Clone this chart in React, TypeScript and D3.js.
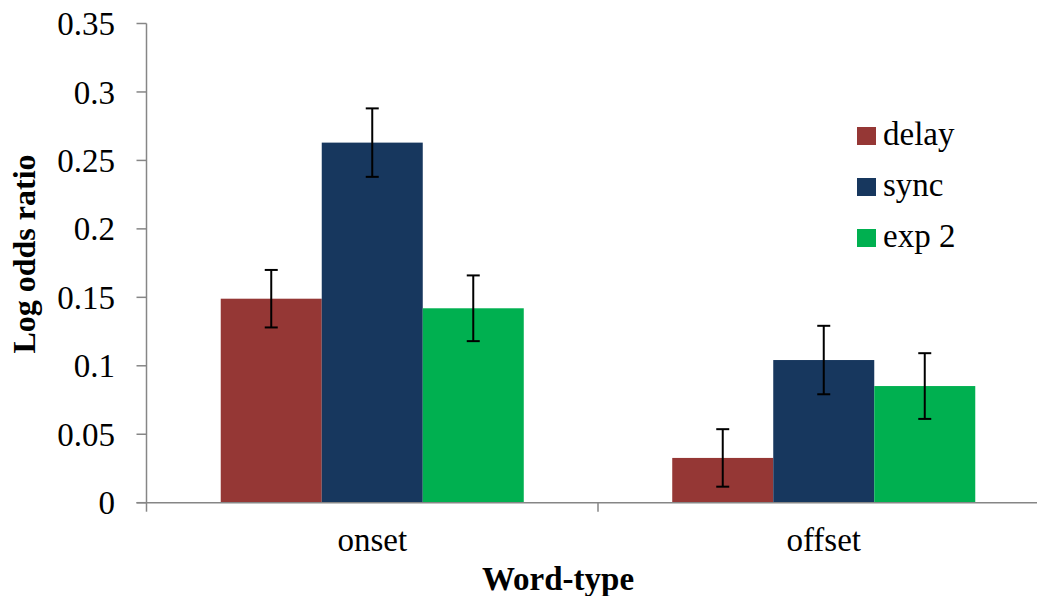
import React from "react";
import * as d3 from "d3";

const categories = ["onset", "offset"];
const seriesNames = ["delay", "sync", "exp 2"];
const delayValues = [0.149, 0.0327];
const syncValues = [0.263, 0.1042];
const exp2Values = [0.142, 0.0852];
const delayErrors = [0.021, 0.021];
const syncErrors = [0.025, 0.025];
const exp2Errors = [0.024, 0.024];
const yTicks = [0, 0.05, 0.1, 0.15, 0.2, 0.25, 0.3, 0.35];
const yTickLabels = ["0", "0.05", "0.1", "0.15", "0.2", "0.25", "0.3", "0.35"];
const colors = ["#953735", "#17375E", "#00B050"];

const W = 1037;
const H = 596;
const tStyle = { fontFamily: '"Liberation Serif", monospace' };

export default function App() {
  const x0 = 146.5;
  const x1 = 1049.5;
  const yBottom = 502.7;
  const yTop = 23.5;
  const xScale = d3.scaleBand<string>().domain(categories).range([x0, x1]).padding(0);
  const bw = xScale.bandwidth();
  const inner = d3
    .scaleBand<string>()
    .domain(seriesNames)
    .range([0, bw])
    .paddingInner(0)
    .paddingOuter(0.735);
  const yScale = d3.scaleLinear().domain([0, 0.35]).range([yBottom, yTop]);

  const values = [delayValues, syncValues, exp2Values];
  const errors = [delayErrors, syncErrors, exp2Errors];
  const axisColor = "#868686";

  return (
    <svg
      width={W}
      height={H}
      style={{ position: "absolute", left: 0, top: 0, background: "#fff" }}
    >
      <rect x={0} y={0} width={W} height={H} fill="#fff" />
      {seriesNames.map((s, si) =>
        categories.map((c, ci) => {
          const bx = (xScale(c) as number) + (inner(s) as number);
          const v = values[si][ci];
          return (
            <rect
              key={s + c}
              x={bx}
              y={yScale(v)}
              width={inner.bandwidth()}
              height={yScale(0) - yScale(v)}
              fill={colors[si]}
            />
          );
        })
      )}
      {seriesNames.map((s, si) =>
        categories.map((c, ci) => {
          const cx = (xScale(c) as number) + (inner(s) as number) + inner.bandwidth() / 2;
          const v = values[si][ci];
          const e = errors[si][ci];
          const yt = yScale(v + e);
          const yb = yScale(v - e);
          return (
            <g key={"e" + s + c} stroke="#000" strokeWidth={2}>
              <line x1={cx} x2={cx} y1={yt} y2={yb} />
              <line x1={cx - 6.5} x2={cx + 6.5} y1={yt} y2={yt} />
              <line x1={cx - 6.5} x2={cx + 6.5} y1={yb} y2={yb} />
            </g>
          );
        })
      )}
      <line x1={x0} x2={x0} y1={yTop} y2={yBottom} stroke={axisColor} strokeWidth={1.5} />
      {yTicks.map((t, i) => (
        <g key={"yt" + i}>
          <line x1={x0 - 10} x2={x0} y1={yScale(t)} y2={yScale(t)} stroke={axisColor} strokeWidth={1.5} />
          <text
            x={115}
            y={yScale(t)}
            dy="0.35em"
            textAnchor="end"
            fontSize={33}
            fill="#000"
            style={tStyle}
          >
            {yTickLabels[i]}
          </text>
        </g>
      ))}
      <line x1={x0 - 10} x2={x1 + 2} y1={yBottom} y2={yBottom} stroke={axisColor} strokeWidth={1.5} />
      {[x0, ...categories.map((c) => (xScale(c) as number) + bw)].map((tx, i) => (
        <line key={"xt" + i} x1={tx} x2={tx} y1={yBottom} y2={yBottom + 9} stroke={axisColor} strokeWidth={1.5} />
      ))}
      {categories.map((c) => (
        <text
          key={"xl" + c}
          x={(xScale(c) as number) + bw / 2}
          y={551}
          textAnchor="middle"
          fontSize={33}
          fill="#000"
          style={tStyle}
        >
          {c}
        </text>
      ))}
      <text x={558} y={590} textAnchor="middle" fontSize={33} fontWeight="bold" fill="#000" style={tStyle}>
        Word-type
      </text>
      <text
        transform={`translate(35,254) rotate(-90)`}
        textAnchor="middle"
        fontSize={32}
        fontWeight="bold"
        fill="#000"
        style={tStyle}
      >
        Log odds ratio
      </text>
      {seriesNames.map((s, si) => (
        <g key={"lg" + s} transform={`translate(857,${127 + si * 51})`}>
          <rect x={0} y={0} width={19} height={18} fill={colors[si]} />
          <text x={26} y={18} fontSize={33} fill="#000" style={tStyle}>
            {s}
          </text>
        </g>
      ))}
    </svg>
  );
}
